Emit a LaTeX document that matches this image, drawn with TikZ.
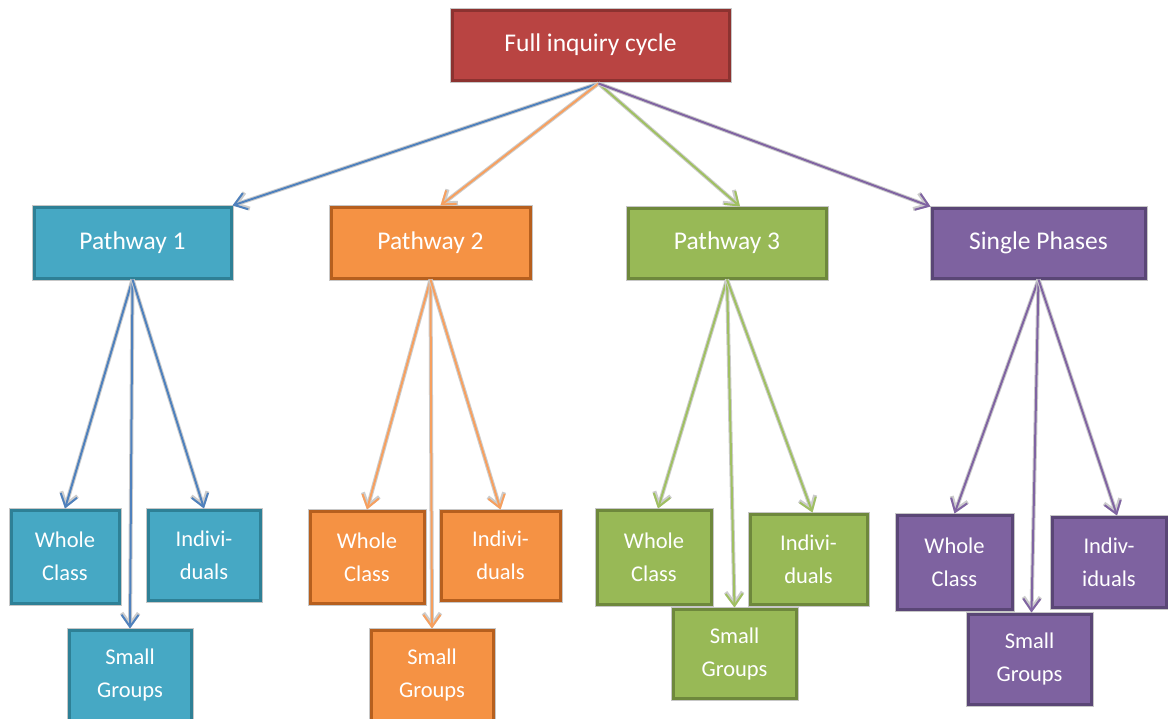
\documentclass[tikz,border=0pt]{standalone}
\usepackage{fontspec}
\setmainfont{Carlito}
\usetikzlibrary{arrows.meta,calc}
\definecolor{rootfill}{RGB}{185,68,66}
\definecolor{rootline}{RGB}{140,50,48}
\definecolor{tealfill}{RGB}{70,168,196}
\definecolor{tealline}{RGB}{46,128,150}
\definecolor{orfill}{RGB}{245,146,68}
\definecolor{orline}{RGB}{182,95,30}
\definecolor{grfill}{RGB}{152,185,86}
\definecolor{grline}{RGB}{110,136,60}
\definecolor{pufill}{RGB}{126,98,160}
\definecolor{puline}{RGB}{90,70,118}
\definecolor{blarrow}{RGB}{79,129,189}
\definecolor{orarrow}{RGB}{247,160,95}
\definecolor{grarrow}{RGB}{160,192,98}
\definecolor{puarrow}{RGB}{128,100,162}
\tikzset{
  box/.style={rectangle, inner sep=0pt, line width=3pt, text=white, align=center,
    preaction={draw=black!22, line width=5pt}},
  bigbox/.style={box, font=\fontsize{25.5}{30}\selectfont},
  smallbox/.style={box, font=\fontsize{22.5}{33}\selectfont},
  conn/.style={line width=2pt, -{Straight Barb[length=12pt,width=17pt,line width=2pt]},
    preaction={draw=black!20, line width=4pt, -{Straight Barb[length=12pt,width=17pt,line width=4pt]}}},
  tealb/.style={fill=tealfill, draw=tealline},
  orb/.style={fill=orfill, draw=orline},
  grb/.style={fill=grfill, draw=grline},
  pub/.style={fill=pufill, draw=puline},
}
\begin{document}
\begin{tikzpicture}[x=1pt,y=-1pt]
\useasboundingbox (0,0) rectangle (1168,718);
\fill[white] (0,0) rectangle (1168,718);
% top
\node[bigbox, fill=rootfill, draw=rootline, minimum width=277pt, minimum height=70pt] (root) at (590.5,45) {Full inquiry cycle};
% pathways
\node[bigbox, tealb, minimum width=197pt, minimum height=71pt] (p1) at (132.5,242.5) {Pathway 1};
\node[bigbox, orb, minimum width=199pt, minimum height=71pt] (p2) at (430.5,242.5) {Pathway 2};
\node[bigbox, grb, minimum width=198pt, minimum height=70pt] (p3) at (727,243) {Pathway 3};
\node[bigbox, pub, minimum width=213pt, minimum height=70pt] (sp) at (1038.5,243) {Single Phases};
% pathway 1 children
\node[smallbox, tealb, minimum width=108pt, minimum height=93pt] (p1wc) at (65,556.5) {Whole\\Class};
\node[smallbox, tealb, minimum width=112pt, minimum height=90pt] (p1in) at (204,555) {Indivi-\\duals};
\node[smallbox, tealb, minimum width=122pt, minimum height=90pt] (p1sg) at (130,675) {Small\\Groups};
% pathway 2 children
\node[smallbox, orb, minimum width=114pt, minimum height=92pt] (p2wc) at (367,557) {Whole\\Class};
\node[smallbox, orb, minimum width=119pt, minimum height=89pt] (p2in) at (500.5,555.5) {Indivi-\\duals};
\node[smallbox, orb, minimum width=122pt, minimum height=90pt] (p2sg) at (432,675) {Small\\Groups};
% pathway 3 children
\node[smallbox, grb, minimum width=114pt, minimum height=94pt] (p3wc) at (654,557) {Whole\\Class};
\node[smallbox, grb, minimum width=117pt, minimum height=90pt] (p3in) at (808.5,559) {Indivi-\\duals};
\node[smallbox, grb, minimum width=123pt, minimum height=89pt] (p3sg) at (734.5,653.5) {Small\\Groups};
% single phases children
\node[smallbox, pub, minimum width=115pt, minimum height=94pt] (spwc) at (954.5,562) {Whole\\Class};
\node[smallbox, pub, minimum width=114pt, minimum height=90pt] (spin) at (1109,562) {Indiv-\\iduals};
\node[smallbox, pub, minimum width=123pt, minimum height=90pt] (spsg) at (1029.5,659) {Small\\Groups};
% connectors from root
\coordinate (rs) at ($(root.south)+(8,2)$);
\draw[conn, blarrow] (rs) -- (p1.north east);
\draw[conn, orarrow] (rs) -- ($(p2.north)+(10,0)$);
\draw[conn, grarrow] (rs) -- ($(p3.north)+(13,0)$);
\draw[conn, puarrow] (rs) -- (sp.north west);
% pathway 1
\draw[conn, blarrow] (p1.south) -- (p1wc.north);
\draw[conn, blarrow] (p1.south) -- (p1sg.north);
\draw[conn, blarrow] (p1.south) -- (p1in.north);
% pathway 2
\draw[conn, orarrow] (p2.south) -- (p2wc.north);
\draw[conn, orarrow] (p2.south) -- (p2sg.north);
\draw[conn, orarrow] (p2.south) -- (p2in.north);
% pathway 3
\draw[conn, grarrow] (p3.south) -- ($(p3wc.north)+(4,0)$);
\draw[conn, grarrow] (p3.south) -- (p3sg.north);
\draw[conn, grarrow] (p3.south) -- ($(p3in.north)+(4,0)$);
% single phases
\draw[conn, puarrow] (sp.south) -- (spwc.north);
\draw[conn, puarrow] (sp.south) -- ($(spsg.north)+(2,0)$);
\draw[conn, puarrow] (sp.south) -- ($(spin.north)+(8,0)$);
\end{tikzpicture}
\end{document}
